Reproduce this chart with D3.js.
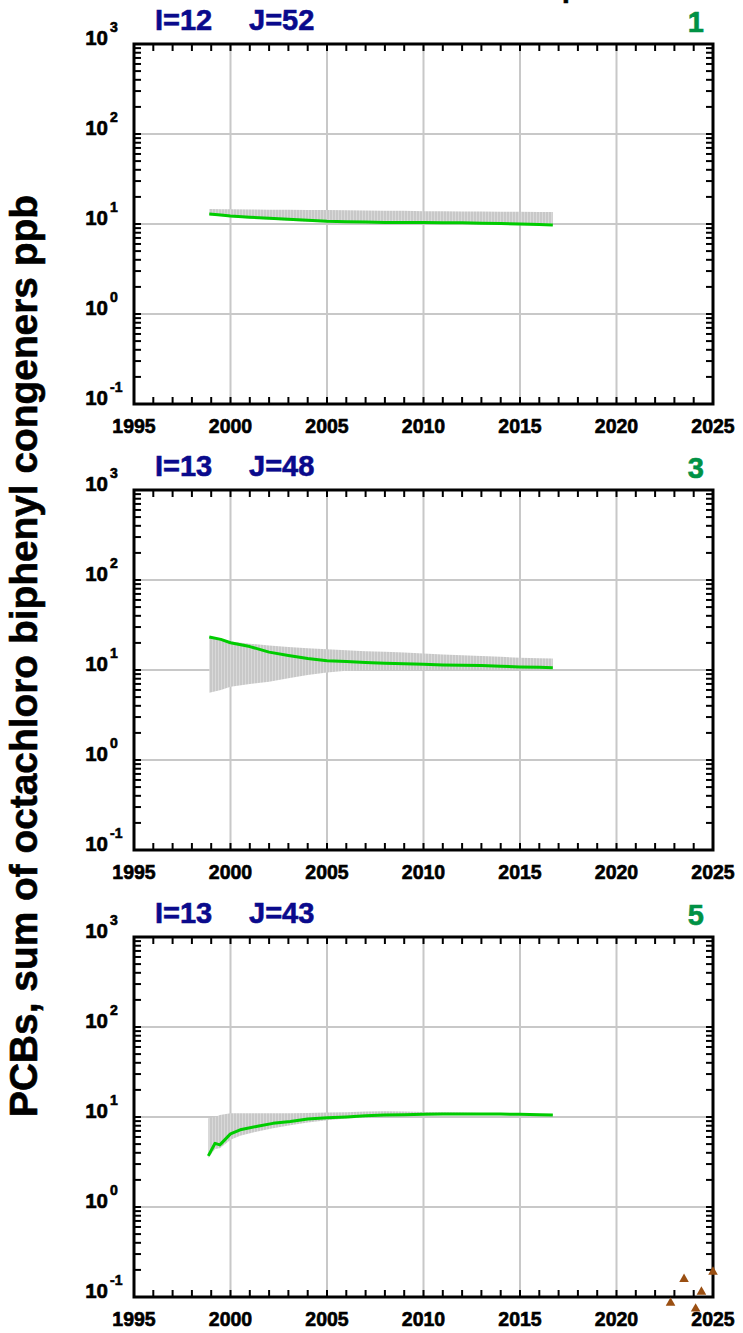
<!DOCTYPE html>
<html>
<head>
<meta charset="utf-8">
<script src="https://cdn.jsdelivr.net/npm/d3@7"></script>
<style>
  html, body { margin: 0; padding: 0; background: #fff; }
  svg { display: block; font-family: "Liberation Sans", Arial, sans-serif; font-weight: bold; }
  text { paint-order: stroke; stroke-width: 0.6px; stroke: currentColor; }
</style>
</head>
<body>
<svg id="chart" width="743" height="1333"></svg>
<script>
// ---------------- data ----------------
const panelNumbers = ["1", "3", "5"];
const panelI = [12, 13, 13];
const panelJ = [52, 48, 43];
const yAxisLabel = "PCBs, sum of octachloro biphenyl congeners ppb";
const xTickLabels = [1995, 2000, 2005, 2010, 2015, 2020, 2025];
const yTickExponents = [-1, 0, 1, 2, 3];

const years1 = [1998.9, 1999.5, 2000, 2001, 2002, 2003, 2004, 2005, 2006, 2007, 2008, 2009, 2010, 2011, 2012, 2013, 2014, 2015, 2016, 2016.7];
const median1 = [12.9, 12.6, 12.3, 11.9, 11.6, 11.3, 11.0, 10.7, 10.6, 10.5, 10.4, 10.4, 10.4, 10.3, 10.3, 10.2, 10.1, 10.0, 9.9, 9.75];
const upper1 = [14.7, 14.6, 14.6, 14.5, 14.4, 14.4, 14.3, 14.3, 14.2, 14.1, 14.0, 14.0, 13.9, 13.9, 13.8, 13.8, 13.7, 13.7, 13.6, 13.6];
const lower1 = [12.5, 12.2, 11.9, 11.5, 11.2, 10.9, 10.6, 10.4, 10.3, 10.2, 10.1, 10.1, 10.1, 10.0, 10.0, 9.9, 9.8, 9.7, 9.6, 9.5];

const years2 = [1998.9, 1999.5, 2000, 2001, 2002, 2003, 2004, 2005, 2006, 2007, 2008, 2009, 2010, 2011, 2012, 2013, 2014, 2015, 2016, 2016.7];
const median2 = [23.3, 21.9, 20.1, 18.2, 15.8, 14.5, 13.4, 12.7, 12.4, 12.1, 11.9, 11.7, 11.6, 11.4, 11.3, 11.2, 11.0, 10.8, 10.7, 10.6];
const upper2 = [23.5, 22.0, 20.7, 19.6, 18.7, 18.0, 17.5, 17.0, 16.6, 16.2, 15.9, 15.6, 15.3, 14.9, 14.6, 14.3, 14.0, 13.7, 13.5, 13.4];
const lower2 = [5.6, 6.0, 6.5, 7.0, 7.4, 8.1, 8.8, 9.4, 9.8, 10.0, 10.0, 10.0, 10.0, 10.1, 10.1, 10.1, 10.1, 10.2, 10.2, 10.2];

const years3 = [1998.85, 1999.2, 1999.45, 2000.0, 2000.5, 2001.4, 2002.2, 2003.1, 2004.0, 2005, 2006, 2007, 2008, 2009, 2010, 2011, 2012, 2013, 2014, 2015, 2016, 2016.7];
const median3 = [3.7, 5.1, 4.9, 6.5, 7.2, 7.9, 8.5, 8.9, 9.5, 9.8, 10.0, 10.3, 10.5, 10.6, 10.7, 10.8, 10.8, 10.8, 10.8, 10.7, 10.6, 10.5];
const upper3 = [9.7, 10.0, 10.5, 11.0, 11.0, 11.0, 11.0, 11.0, 11.1, 11.2, 11.3, 11.5, 11.6, 11.5, 11.4, 11.3, 11.2, 11.1, 11.1, 11.0, 10.9, 10.8];
const lower3 = [3.5, 4.4, 4.5, 5.6, 6.2, 6.9, 7.5, 8.1, 8.7, 9.2, 9.6, 9.9, 10.1, 10.3, 10.4, 10.5, 10.5, 10.5, 10.5, 10.4, 10.3, 10.2];

const obsYears3 = [2022.8, 2023.5, 2024.1, 2024.4, 2025.0];
const obsValues3 = [0.086, 0.158, 0.074, 0.114, 0.19];

// ---------------- layout ----------------
const svg = d3.select("#chart");
const left = 134, right = 713;
const panelTops = [44, 490, 937];
const panelH = 360;

const panels = [
  { years: years1, median: median1, upper: upper1, lower: lower1, obsY: [], obsV: [] },
  { years: years2, median: median2, upper: upper2, lower: lower2, obsY: [], obsV: [] },
  { years: years3, median: median3, upper: upper3, lower: lower3, obsY: obsYears3, obsV: obsValues3 }
];

const defs = svg.append("defs");
const pat = defs.append("pattern").attr("id", "stripes").attr("patternUnits", "userSpaceOnUse")
  .attr("width", 3).attr("height", 10);
pat.append("rect").attr("width", 3).attr("height", 10).attr("fill", "#d9d9d9");
pat.append("rect").attr("width", 2).attr("height", 10).attr("fill", "#c8c8c8");

const x = d3.scaleLinear().domain([1995, 2025]).range([left, right]);
const yearTicks = d3.range(1995, 2026);
const majorYears = xTickLabels.filter(v => v > 1995 && v < 2025);

// cropped top title descender
svg.append("text").attr("x", 562).attr("y", -3).attr("font-size", 28).attr("fill", "#000").style("color", "#000").text("p");

panels.forEach((p, i) => {
  const top = panelTops[i];
  const y = d3.scaleLog().domain([0.1, 1000]).range([top + panelH, top]);
  const g = svg.append("g");

  const minorY = [];
  for (let e = -1; e < 3; e++) for (let m = 2; m <= 9; m++) minorY.push(m * Math.pow(10, e));
  const decades = yTickExponents.map(e => Math.pow(10, e));

  // gridlines
  g.selectAll(".gx").data(majorYears).join("line")
    .attr("x1", d => x(d)).attr("x2", d => x(d)).attr("y1", top).attr("y2", top + panelH)
    .attr("stroke", "#c8c8c8").attr("stroke-width", 2);
  g.selectAll(".gy").data(decades.slice(1, -1)).join("line")
    .attr("x1", left).attr("x2", right).attr("y1", d => y(d)).attr("y2", d => y(d))
    .attr("stroke", "#c8c8c8").attr("stroke-width", 2);

  // band
  const idx = d3.range(p.years.length);
  const area = d3.area().x(k => x(p.years[k])).y0(k => y(p.lower[k])).y1(k => y(p.upper[k]));
  g.append("path").datum(idx).attr("d", area).attr("fill", "url(#stripes)");

  // median line
  const line = d3.line().x(k => x(p.years[k])).y(k => y(p.median[k]));
  g.append("path").datum(idx).attr("d", line).attr("fill", "none")
    .attr("stroke", "#00cc00").attr("stroke-width", 3).attr("stroke-linejoin", "round");

  // ticks
  const tl = 7;
  const ax = g.append("g").attr("stroke", "#000").attr("stroke-width", 2);
  yearTicks.forEach(v => {
    ax.append("line").attr("x1", x(v)).attr("x2", x(v)).attr("y1", top + panelH).attr("y2", top + panelH - tl);
    ax.append("line").attr("x1", x(v)).attr("x2", x(v)).attr("y1", top).attr("y2", top + tl);
  });
  minorY.concat(decades).forEach(v => {
    ax.append("line").attr("x1", left).attr("x2", left + tl).attr("y1", y(v)).attr("y2", y(v));
    ax.append("line").attr("x1", right).attr("x2", right - tl).attr("y1", y(v)).attr("y2", y(v));
  });

  // frame
  g.append("rect").attr("x", left).attr("y", top).attr("width", right - left).attr("height", panelH)
    .attr("fill", "none").attr("stroke", "#000").attr("stroke-width", 3);

  // x labels
  g.selectAll(".xl").data(xTickLabels).join("text")
    .attr("x", d => x(d)).attr("y", top + panelH + 29).attr("text-anchor", "middle")
    .attr("font-size", 19.5).attr("fill", "#000").style("color", "#000").text(d => d);

  // y labels
  yTickExponents.forEach(e => {
    g.append("text").attr("x", 108).attr("y", y(Math.pow(10, e)) + 1)
      .attr("text-anchor", "end").attr("font-size", 20.5).attr("fill", "#000").style("color", "#000").text("10");
    g.append("text").attr("x", 110).attr("y", y(Math.pow(10, e)) - 12)
      .attr("font-size", 14).attr("fill", "#000").style("color", "#000").text(String(e));
  });

  // titles
  g.append("text").attr("x", 155).attr("y", top - 14).attr("font-size", 29).attr("fill", "#0a0a8c")
    .style("color", "#0a0a8c").text("I=" + panelI[i]);
  g.append("text").attr("x", 249).attr("y", top - 14).attr("font-size", 29).attr("fill", "#0a0a8c")
    .style("color", "#0a0a8c").text("J=" + panelJ[i]);
  g.append("text").attr("x", 704).attr("y", top - 12).attr("text-anchor", "end")
    .attr("font-size", 29).attr("fill", "#009245").style("color", "#009245").text(panelNumbers[i]);

  // observations
  g.selectAll(".obs").data(d3.range(p.obsY.length)).join("path")
    .attr("d", d3.symbol().type(d3.symbolTriangle).size(40))
    .attr("transform", k => `translate(${x(p.obsY[k])},${y(p.obsV[k])})`)
    .attr("fill", "#9a4f12");
});

// y axis label
const yl = svg.append("text").attr("transform", "translate(37,656) rotate(-90)")
  .attr("text-anchor", "middle").attr("font-size", 30).attr("fill", "#000").style("color", "#000").text(yAxisLabel);
const len = yl.node().getComputedTextLength();
yl.attr("font-size", 30 * 922 / len);
</script>
</body>
</html>
